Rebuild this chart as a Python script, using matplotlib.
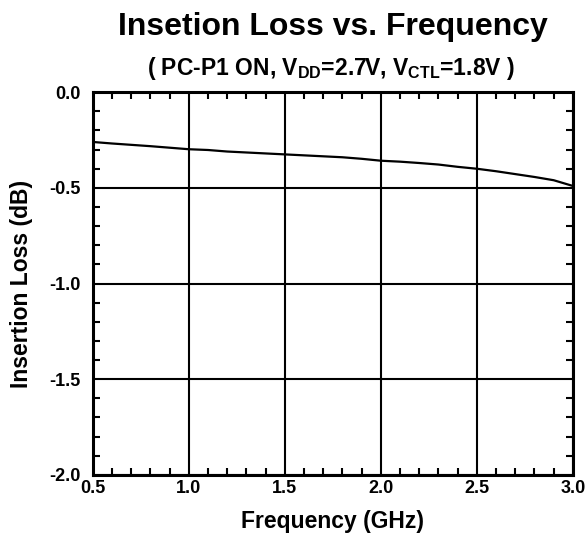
import numpy as np
import matplotlib
matplotlib.use("Agg")
import matplotlib.pyplot as plt
from matplotlib.ticker import MultipleLocator

plt.rcParams['font.family'] = ['Liberation Sans', 'DejaVu Sans']
plt.rcParams['font.weight'] = 'bold'
plt.rcParams['mathtext.fontset'] = 'custom'
plt.rcParams['mathtext.rm'] = 'Liberation Sans:bold'
plt.rcParams['mathtext.bf'] = 'Liberation Sans:bold'

# data
freq_ghz = [0.5, 0.6, 0.7, 0.8, 0.9, 1.0, 1.1, 1.2, 1.3, 1.4, 1.5, 1.6, 1.7,
            1.8, 1.9, 2.0, 2.1, 2.2, 2.3, 2.4, 2.5, 2.6, 2.7, 2.8, 2.9, 3.0]
loss_db = [-0.26, -0.268, -0.275, -0.282, -0.29, -0.298, -0.302, -0.31, -0.315,
           -0.32, -0.325, -0.33, -0.335, -0.34, -0.348, -0.358, -0.363, -0.37,
           -0.378, -0.39, -0.40, -0.413, -0.428, -0.443, -0.46, -0.49]

xticks = [0.5, 1.0, 1.5, 2.0, 2.5, 3.0]
yticks = [0.0, -0.5, -1.0, -1.5, -2.0]

fig = plt.figure(figsize=(5.87, 5.33), dpi=100)
ax = fig.add_axes([0.158, 0.109, 0.818, 0.718])

ax.plot(freq_ghz, loss_db, color='black', lw=1.6)

ax.set_xlim(0.5, 3.0)
ax.set_ylim(-2.0, 0.0)
ax.set_xticks(xticks)
ax.set_yticks(yticks)
ax.set_xticklabels(['%.1f' % v for v in xticks], fontsize=13, fontweight='bold')
ax.set_yticklabels(['%.1f' % v for v in yticks], fontsize=13, fontweight='bold')
ax.xaxis.set_minor_locator(MultipleLocator(0.1))
ax.yaxis.set_minor_locator(MultipleLocator(0.1))
ax.tick_params(which='both', direction='in', top=True, right=True, width=1.5)
ax.tick_params(which='major', length=0)
ax.tick_params(axis='x', which='major', pad=4)
ax.tick_params(axis='y', which='major', pad=9)
ax.tick_params(which='minor', length=5)
ax.grid(True, which='major', color='black', lw=1.5)
for s in ax.spines.values():
    s.set_linewidth(2.2)

ax.set_xlabel('Frequency (GHz)', fontsize=16.5, fontweight='bold')
ax.set_ylabel('Insertion Loss (dB)', fontsize=16.5, fontweight='bold')
ax.xaxis.set_label_coords(0.5, -0.092)
ax.yaxis.set_label_coords(-0.125, 0.5)

fig.text(0.567, 0.934, 'Insetion Loss vs. Frequency', ha='center', va='baseline',
         fontsize=23, fontweight='bold')
fig.text(0.564, 0.859, r'( PC-P1 ON, $\mathbf{V_{DD}}$=2.7V, $\mathbf{V_{CTL}}$=1.8V )',
         ha='center', va='baseline', fontsize=16.5, fontweight='bold')

fig.savefig('out.png', dpi=100)
